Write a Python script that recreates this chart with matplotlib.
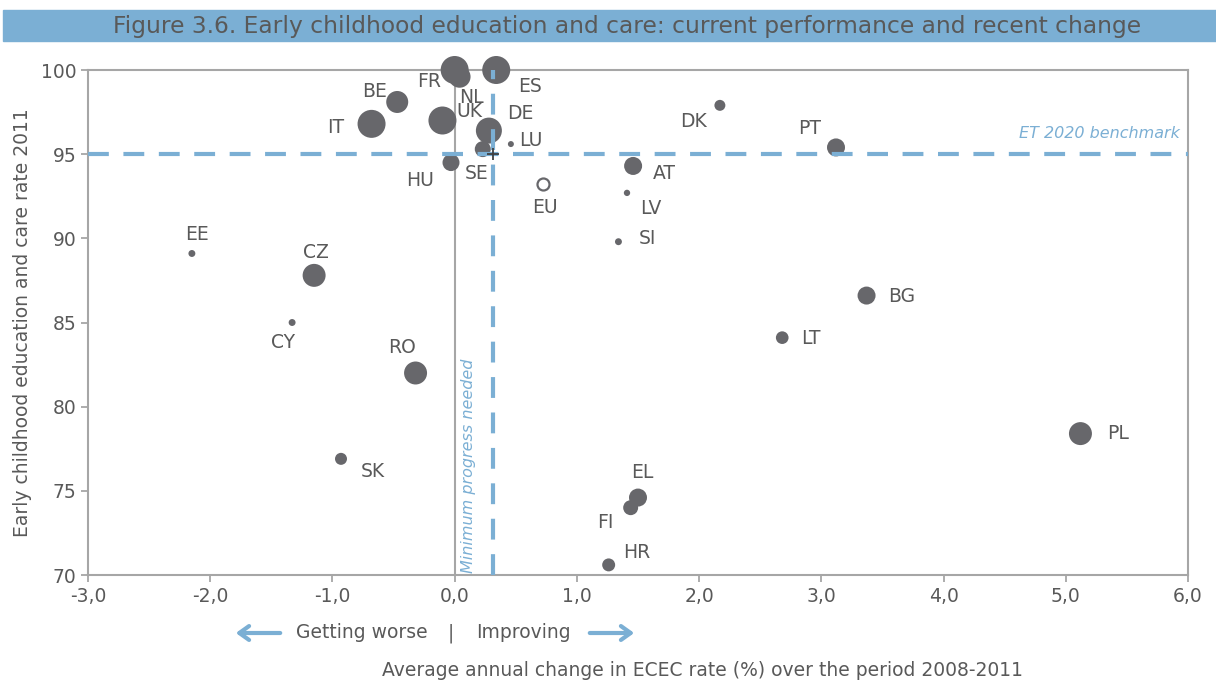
import matplotlib.pyplot as plt
from matplotlib.patches import Rectangle, FancyArrowPatch

# country codes, change 2008-2011 (x), ECEC rate 2011 (y), bubble weight
countries = ["FR", "NL", "ES", "BE", "IT", "UK", "DE", "SE", "LU", "HU",
             "DK", "PT", "AT", "LV", "SI", "EE", "CZ", "CY", "RO", "SK",
             "EL", "FI", "HR", "BG", "LT", "PL"]
change = [0.00, 0.04, 0.34, -0.47, -0.68, -0.10, 0.28, 0.23, 0.46, -0.03,
          2.17, 3.12, 1.46, 1.41, 1.34, -2.15, -1.15, -1.33, -0.32, -0.93,
          1.50, 1.44, 1.26, 3.37, 2.68, 5.12]
rate = [100.0, 99.6, 100.0, 98.1, 96.8, 97.0, 96.4, 95.3, 95.6, 94.5,
        97.9, 95.4, 94.3, 92.7, 89.8, 89.1, 87.8, 85.0, 82.0, 76.9,
        74.6, 74.0, 70.6, 86.6, 84.1, 78.4]
weight = [196, 121, 196, 121, 196, 196, 169, 64, 9, 72,
          30, 81, 81, 10, 12, 12, 132, 12, 132, 36,
          81, 56, 42, 81, 40, 132]
label_offset = [(-26, 11), (12, 21), (34, 16), (-23, -10), (-36, 4), (27, -9),
                (31, -17), (-6, 24), (20, -4), (-31, 18),
                (-26, 16), (-26, -19), (31, 8), (24, 16), (29, -3), (5, -19),
                (2, -23), (-9, 20), (-14, -26), (32, 13),
                (4, -25), (-25, 15), (28, -12), (35, 1), (29, 1), (38, 0)]

eu_change, eu_rate = 0.72, 93.2
benchmark = 95
min_progress = 0.31

BLUE = "#7BAFD4"
DOT = "#67676B"
TXT = "#595959"
AX = "#A6A6A6"
FS = 13.5

fig = plt.figure(figsize=(12.16, 6.82), dpi=100)
ax = fig.add_axes([88 / 1216, 1 - 575 / 682, 1100 / 1216, 505 / 682])

# title band
fig.patches.append(Rectangle((3 / 1216, 1 - 41 / 682), 1213 / 1216, 31 / 682,
                             transform=fig.transFigure, color=BLUE, zorder=0))
fig.text(0.516, 1 - 26 / 682, "Figure 3.6. Early childhood education and care: current performance and recent change",
         ha="center", va="center", fontsize=16.8, color=TXT)

sizes = [(2 * (w ** 0.5) * 0.72) ** 2 for w in weight]
ax.scatter(change, rate, s=sizes, color=DOT, zorder=3, linewidths=0, clip_on=False)
ax.scatter([eu_change], [eu_rate], s=(12 * 0.72) ** 2, facecolor="white",
           edgecolor=DOT, linewidths=1.6, zorder=3)

for c, x, y, (dx, dy) in zip(countries, change, rate, label_offset):
    ax.annotate(c, (x, y), xytext=(dx * 0.72, -dy * 0.72), textcoords="offset points",
                ha="center", va="center", fontsize=FS, color=TXT, zorder=5)
ax.annotate("EU", (eu_change, eu_rate), xytext=(2 * 0.72, -23 * 0.72), textcoords="offset points",
            ha="center", va="center", fontsize=FS, color=TXT)

# reference lines
ax.axvline(0, color=AX, lw=1.5, zorder=1)
ax.axhline(benchmark, color=BLUE, lw=3, dashes=(5, 3.5), zorder=4)
ax.plot([min_progress, min_progress], [70, 100], color=BLUE, lw=3, dashes=(5, 3.5),
        zorder=4, clip_on=False)
ax.plot([min_progress], [benchmark], marker="+", color="#404040", ms=9, mew=1.3, zorder=4)
ax.text(5.93, 96.2, "ET 2020 benchmark", ha="right", va="center", fontsize=11.5,
        style="italic", color=BLUE)
ax.text(0.115, 76.5, "Minimum progress needed", rotation=90, ha="center", va="center",
        fontsize=11.5, style="italic", color=BLUE)

ax.set_xlim(-3, 6)
ax.set_ylim(70, 100)
xt = list(range(-3, 7))
ax.set_xticks(xt)
ax.set_xticklabels([f"{v:.1f}".replace(".", ",") for v in xt])
ax.set_yticks(range(70, 101, 5))
ax.tick_params(colors=AX, labelcolor=TXT, labelsize=FS, length=5, width=1.3)
ax.tick_params(axis="x", pad=4)
for s in ax.spines.values():
    s.set_color(AX)
    s.set_linewidth(1.5)
ax.set_ylabel("Early childhood education and care rate 2011", fontsize=FS, color=TXT, labelpad=6)

# arrows under the axis
fy = 1 - 633 / 682
fig.patches.append(FancyArrowPatch((283 / 1216, fy), (233 / 1216, fy), transform=fig.transFigure,
                                   arrowstyle="->,head_length=7,head_width=5", color=BLUE, lw=3))
fig.patches.append(FancyArrowPatch((587 / 1216, fy), (637 / 1216, fy), transform=fig.transFigure,
                                   arrowstyle="->,head_length=7,head_width=5", color=BLUE, lw=3))
fig.text(362 / 1216, fy, "Getting worse", ha="center", va="center", fontsize=FS, color=TXT)
fig.text(451 / 1216, fy, "|", ha="center", va="center", fontsize=FS, color=TXT)
fig.text(523 / 1216, fy, "Improving", ha="center", va="center", fontsize=FS, color=TXT)
fig.text(703 / 1216, 1 - 671 / 682, "Average annual change in ECEC rate (%) over the period 2008-2011",
         ha="center", va="center", fontsize=FS, color=TXT)

fig.savefig("out.png", dpi=100)
